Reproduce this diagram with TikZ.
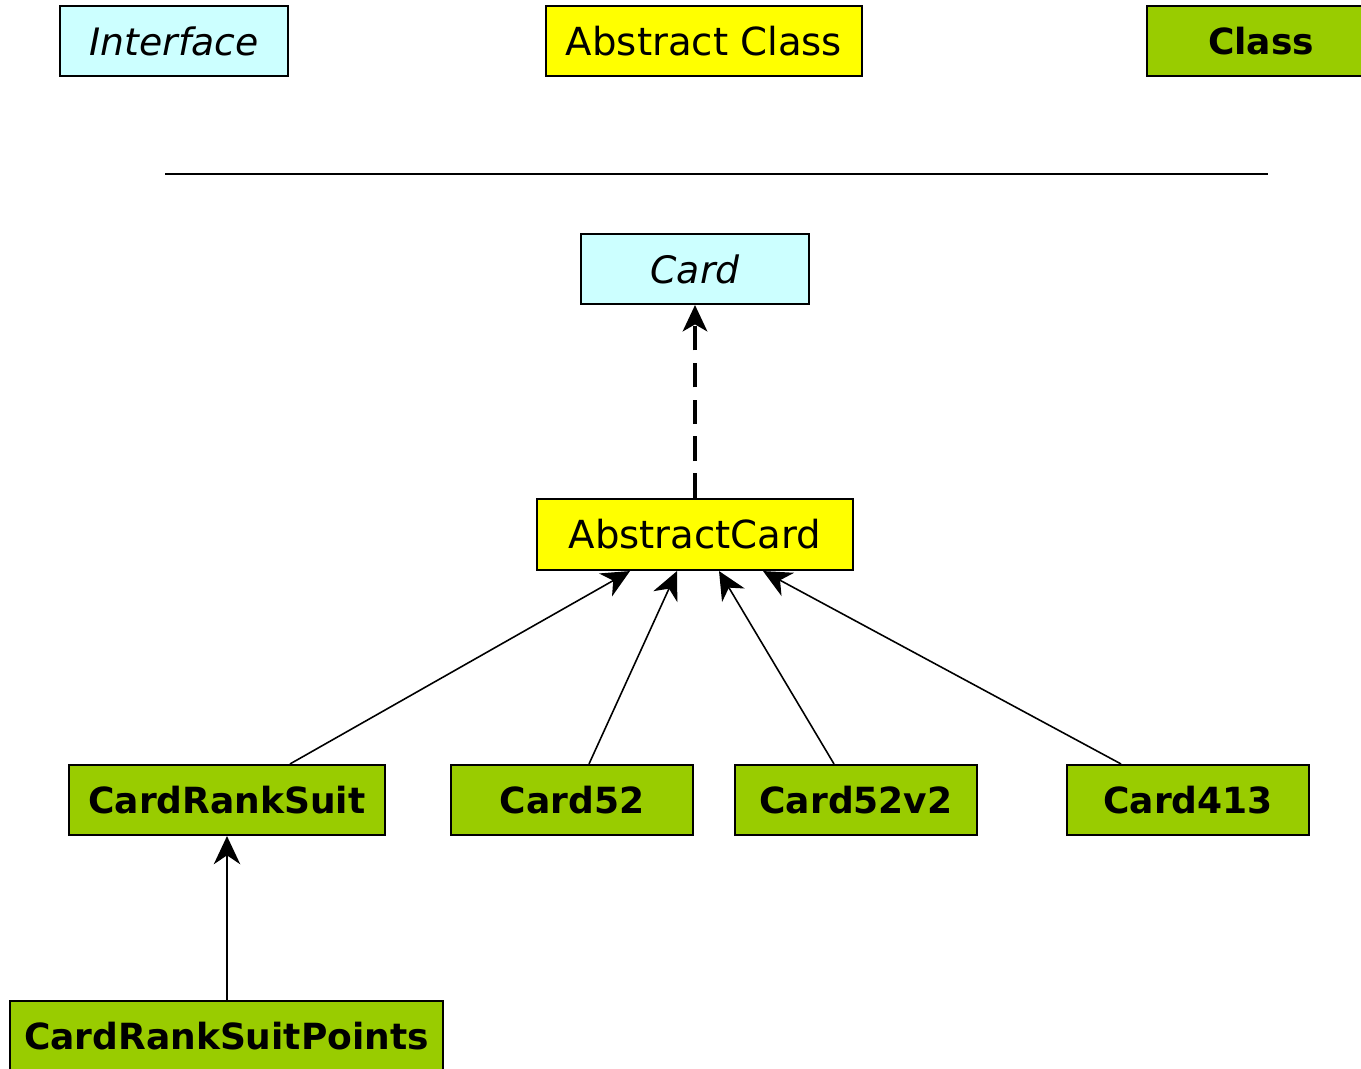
\documentclass[tikz,border=0pt]{standalone}
\usepackage{fontspec}
\setmainfont{DejaVu Sans}
\usetikzlibrary{arrows.meta}
\definecolor{ifc}{RGB}{204,255,255}
\definecolor{absc}{RGB}{255,255,0}
\definecolor{clsc}{RGB}{153,204,0}
\tikzset{
  box/.style={draw=black, line width=1.2pt, inner sep=0pt, anchor=center, font=\fontsize{22}{24}\selectfont},
  ibox/.style={box, fill=ifc, font=\fontsize{21.5}{24}\selectfont\itshape},
  abox/.style={box, fill=absc},
  cbox/.style={box, fill=clsc, font=\fontsize{20.5}{24}\selectfont\bfseries},
  inh/.style={line width=0.9pt, -{Stealth[length=16pt,width=15pt,inset=5pt]}},
  impl/.style={line width=1.8pt, dash pattern=on 14pt off 7pt, -{Stealth[length=15pt,width=14pt,inset=4pt]}}
}
\begin{document}
\begin{tikzpicture}[x=0.02cm,y=-0.02cm]
\useasboundingbox (0,0) rectangle (1361,1068);
\clip (0,0) rectangle (1361,1068);
% legend
\node[ibox, minimum width=228*0.02cm, minimum height=70*0.02cm] (lint) at (174,41) {Interface};
\node[abox, minimum width=316*0.02cm, minimum height=70*0.02cm] (labs) at (704,41) {Abstract Class};
\node[cbox, minimum width=228*0.02cm, minimum height=70*0.02cm] (lcls) at (1261,41) {Class};
\coordinate (sepL) at (165,174);
\coordinate (sepR) at (1268,174);
\draw[line width=0.9pt] (sepL) -- (sepR);
% diagram
\node[ibox, minimum width=228*0.02cm, minimum height=70*0.02cm] (card) at (695,269) {Card};
\node[abox, minimum width=316*0.02cm, minimum height=71*0.02cm] (abstract) at (695,534.5) {AbstractCard};
\node[cbox, minimum width=316*0.02cm, minimum height=70*0.02cm] (crs) at (227,800) {CardRankSuit};
\node[cbox, minimum width=242*0.02cm, minimum height=70*0.02cm] (c52) at (572,800) {Card52};
\node[cbox, minimum width=242*0.02cm, minimum height=70*0.02cm] (c52v2) at (856,800) {Card52v2};
\node[cbox, minimum width=242*0.02cm, minimum height=70*0.02cm] (c413) at (1188,800) {Card413};
\node[cbox, minimum width=433*0.02cm, minimum height=70*0.02cm] (crsp) at (226.5,1036) {CardRankSuitPoints};
% connectors
\draw[impl] (abstract.north) -- (card.south);
\draw[inh] (crs.north -| 290,0) -- (abstract.south -| 630,0);
\draw[inh] (c52.north -| 589,0) -- (abstract.south -| 677,0);
\draw[inh] (c52v2.north -| 834,0) -- (abstract.south -| 719,0);
\draw[inh] (c413.north -| 1121,0) -- (abstract.south -| 763,0);
\draw[inh] (crsp.north -| crs.south) -- (crs.south);
\end{tikzpicture}
\end{document}
